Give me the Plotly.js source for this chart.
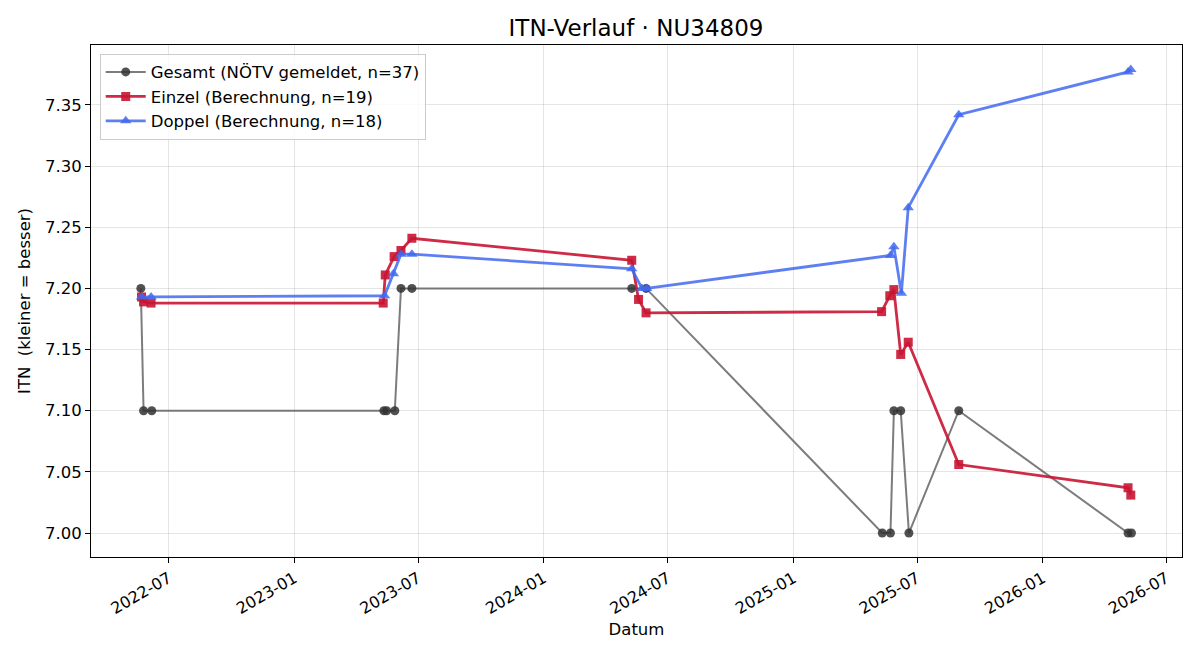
<!DOCTYPE html>
<html>
<head>
<meta charset="utf-8">
<script src="https://cdn.plot.ly/plotly-3.0.1.min.js"></script>
<style>html,body{margin:0;padding:0;background:#fff;}#chart{width:1200px;height:660px;}</style>
</head>
<body>
<div id="chart"></div>
<script>
const gesamtDates = ["2022-05-21","2022-05-25","2022-06-06","2023-05-12","2023-05-16","2023-05-28","2023-06-06","2023-06-22","2024-05-09","2024-05-30","2025-05-11","2025-05-23","2025-05-28","2025-06-07","2025-06-19","2025-08-31","2026-05-06","2026-05-11"];
const gesamtITN = [7.20,7.10,7.10,7.10,7.10,7.10,7.20,7.20,7.20,7.20,7.00,7.00,7.10,7.10,7.00,7.10,7.00,7.00];

const einzelDates = ["2022-05-22","2022-05-25","2022-06-05","2023-05-11","2023-05-14","2023-05-27","2023-06-06","2023-06-22","2024-05-09","2024-05-19","2024-05-30","2025-05-10","2025-05-22","2025-05-28","2025-06-07","2025-06-18","2025-08-31","2026-05-06","2026-05-10"];
const einzelITN = [7.193,7.189,7.188,7.188,7.211,7.226,7.231,7.241,7.223,7.191,7.180,7.181,7.194,7.199,7.146,7.156,7.056,7.037,7.031];

const doppelDates = ["2022-05-22","2022-06-05","2023-05-13","2023-05-26","2023-06-06","2023-06-22","2024-05-09","2024-05-24","2024-05-31","2025-05-23","2025-05-28","2025-06-08","2025-06-18","2025-08-31","2026-05-06","2026-05-10"];
const doppelITN = [7.193,7.193,7.194,7.212,7.228,7.228,7.216,7.200,7.200,7.227,7.234,7.196,7.266,7.342,7.377,7.379];

const xTicks = ["2022-07-01","2023-01-01","2023-07-01","2024-01-01","2024-07-01","2025-01-01","2025-07-01","2026-01-01","2026-07-01"];
const xTickText = ["2022-07","2023-01","2023-07","2024-01","2024-07","2025-01","2025-07","2026-01","2026-07"];
const yTicks = [7.00,7.05,7.10,7.15,7.20,7.25,7.30,7.35];

const traces = [
  {x: gesamtDates, y: gesamtITN, mode: "lines+markers", name: "Gesamt (NÖTV gemeldet, n=37)",
   line: {color: "rgba(80,80,80,0.75)", width: 2},
   marker: {symbol: "circle", size: 9, color: "rgba(50,50,50,0.85)"}},
  {x: einzelDates, y: einzelITN, mode: "lines+markers", name: "Einzel (Berechnung, n=19)",
   line: {color: "rgba(200,20,50,0.9)", width: 2.8},
   marker: {symbol: "square", size: 9, color: "rgba(200,20,50,0.9)"}},
  {x: doppelDates, y: doppelITN, mode: "lines+markers", name: "Doppel (Berechnung, n=18)",
   line: {color: "rgba(65,105,240,0.85)", width: 2.8},
   marker: {symbol: "triangle-up", size: 10, color: "rgba(65,105,240,0.85)"}}
];

const layout = {
  width: 1200, height: 660,
  margin: {l: 91, r: 18, t: 45, b: 103},
  paper_bgcolor: "#fff", plot_bgcolor: "#fff",
  font: {family: "DejaVu Sans, sans-serif", size: 16.5, color: "#000"},
  title: {text: "ITN-Verlauf · NU34809", font: {size: 23, family: "DejaVu Sans, sans-serif", color: "#000"}, x: 0.53, xanchor: "center", y: 0.957, yanchor: "middle"},
  xaxis: {
    type: "date", range: ["2022-03-09", "2026-07-24"],
    tickvals: xTicks, ticktext: xTickText, tickangle: -30,
    tickfont: {size: 16},
    showgrid: true, gridcolor: "rgba(0,0,0,0.1)", gridwidth: 1,
    showline: true, linecolor: "#000", linewidth: 1, mirror: true,
    ticks: "outside", ticklen: 5, tickcolor: "#000",
    zeroline: false,
    title: {text: "Datum", font: {size: 16.5}, standoff: 6}
  },
  yaxis: {
    range: [6.9804, 7.399],
    tickvals: yTicks, tickformat: ".2f",
    tickfont: {size: 16.5},
    showgrid: true, gridcolor: "rgba(0,0,0,0.1)", gridwidth: 1,
    showline: true, linecolor: "#000", linewidth: 1, mirror: true,
    ticks: "outside", ticklen: 5, tickcolor: "#000",
    zeroline: false,
    title: {text: "ITN  (kleiner = besser)", font: {size: 16.5}, standoff: 10}
  },
  showlegend: true,
  legend: {x: 0.008, y: 0.983, xanchor: "left", yanchor: "top",
    bgcolor: "rgba(255,255,255,0.8)", bordercolor: "#cccccc", borderwidth: 1,
    font: {size: 16.5}, tracegroupgap: 0, itemwidth: 40}
};

Plotly.newPlot("chart", traces, layout, {displayModeBar: false, staticPlot: true});
</script>
</body>
</html>
